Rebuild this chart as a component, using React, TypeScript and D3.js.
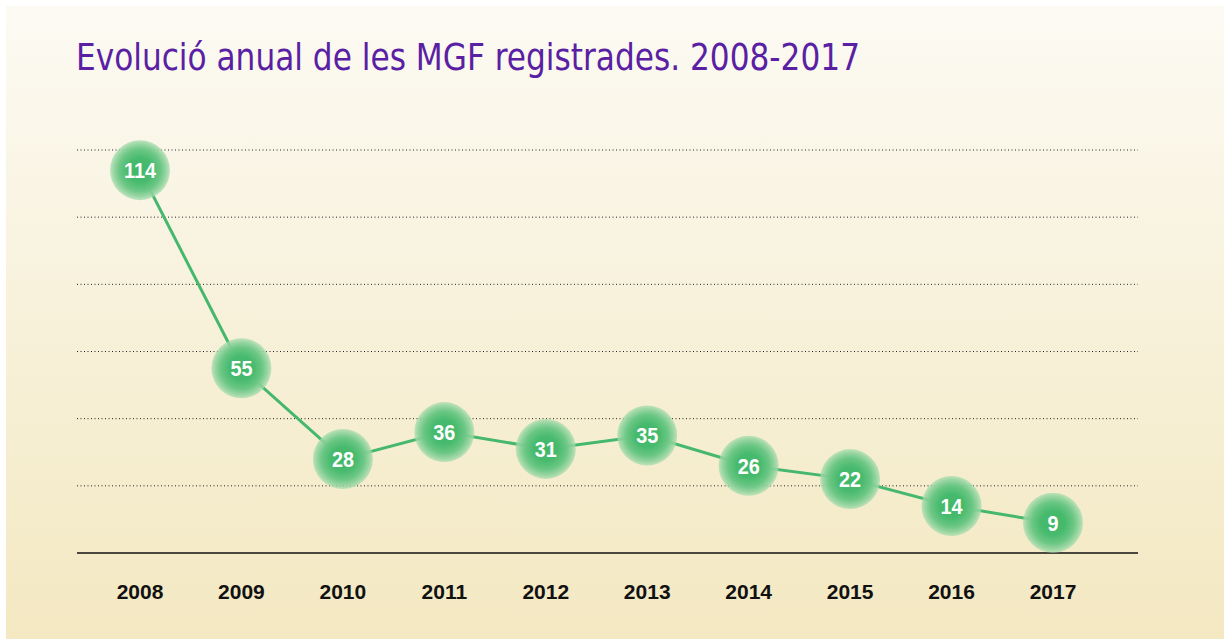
import React, { useEffect } from "react";
import * as d3 from "d3";

const years: string[] = ["2008", "2009", "2010", "2011", "2012", "2013", "2014", "2015", "2016", "2017"];
const values: number[] = [114, 55, 28, 36, 31, 35, 26, 22, 14, 9];
const gridTicks: number[] = [20, 40, 60, 80, 100, 120];
const title = "Evolució anual de les MGF registrades. 2008-2017";

const W = 1224;
const H = 639;

export default function App() {
  useEffect(() => {
    document.body.style.margin = "0";
  }, []);

  const x = d3.scalePoint<string>().domain(years).range([140, 1053]);
  const y = d3.scaleLinear().domain([0, 120]).range([553, 150]);
  const line = d3
    .line<number>()
    .x((_, i) => x(years[i]) as number)
    .y((d) => y(d));

  const axisX0 = 77;
  const axisX1 = 1138;

  return (
    <svg width={W} height={H} style={{ display: "block", position: "absolute", left: 0, top: 0 }}>
      <defs>
        <linearGradient id="bg" x1="0" y1="0" x2="0" y2="1">
          <stop offset="0%" stopColor="#fcfaf3" />
          <stop offset="100%" stopColor="#f3e8c1" />
        </linearGradient>
        <radialGradient id="dot" cx="50%" cy="50%" r="50%">
          <stop offset="0%" stopColor="#40b868" />
          <stop offset="40%" stopColor="#47ba6d" />
          <stop offset="70%" stopColor="#6cc785" />
          <stop offset="88%" stopColor="#8fd39d" stopOpacity="0.9" />
          <stop offset="100%" stopColor="#a8dcae" stopOpacity="0.7" />
        </radialGradient>
      </defs>
      <rect x={6} y={6} width={W - 6} height={H - 6} fill="url(#bg)" />
      <text
        x={76}
        y={70}
        fill="#5a20a3"
        fontFamily="'Liberation Sans Narrow', 'DejaVu Sans Condensed', Arial, sans-serif"
        fontSize={38}
        textLength={784}
        lengthAdjust="spacingAndGlyphs"
      >
        {title}
      </text>
      {gridTicks.map((t) => (
        <line
          key={t}
          x1={axisX0}
          x2={axisX1}
          y1={y(t)}
          y2={y(t)}
          stroke="#222"
          strokeWidth={1}
          strokeDasharray="1,2.5"
        />
      ))}
      <line x1={axisX0} x2={axisX1} y1={y(0)} y2={y(0)} stroke="#111" strokeWidth={1.5} />
      <path d={line(values) || ""} fill="none" stroke="#45b86d" strokeWidth={3} />
      {values.map((v, i) => (
        <g key={years[i]} transform={`translate(${x(years[i])},${y(v)})`}>
          <circle r={30} fill="url(#dot)" />
          <text
            textAnchor="middle"
            dy="0.36em"
            fill="#fff"
            fontFamily="'Liberation Sans', Arial, sans-serif"
            fontWeight="bold"
            fontSize={22}
            transform="scale(0.9,1)"
          >
            {v}
          </text>
        </g>
      ))}
      {years.map((yr) => (
        <text
          key={yr}
          x={x(yr)}
          y={599}
          textAnchor="middle"
          fill="#111"
          fontFamily="'Liberation Sans', Arial, sans-serif"
          fontWeight="bold"
          fontSize={21}
        >
          {yr}
        </text>
      ))}
    </svg>
  );
}
